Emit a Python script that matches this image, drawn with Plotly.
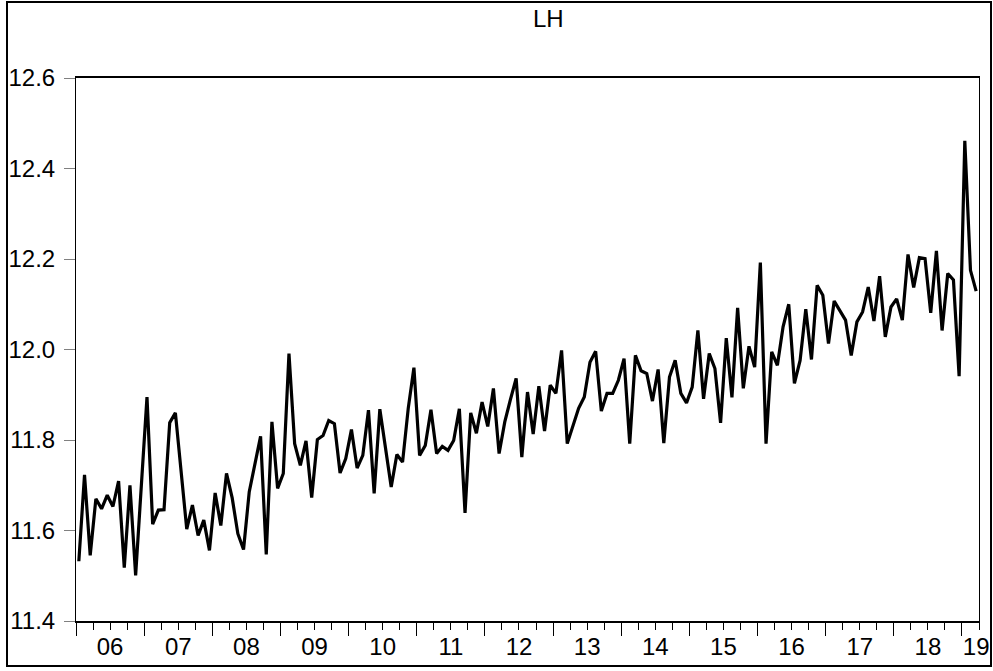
import numpy as np
import plotly.graph_objects as go

# Monthly series LH, 2006M01 - 2019M03
start_year = 2006
lh = [
    11.532, 11.723, 11.545, 11.670, 11.648, 11.678, 11.653, 11.709, 11.518, 11.700, 11.501, 11.700,  # 2006
    11.895, 11.614, 11.645, 11.646, 11.838, 11.860, 11.725, 11.603, 11.656, 11.589, 11.623, 11.556,  # 2007
    11.683, 11.611, 11.726, 11.672, 11.593, 11.558, 11.685, 11.748, 11.808, 11.547, 11.840, 11.693,  # 2008
    11.726, 11.991, 11.792, 11.744, 11.798, 11.673, 11.801, 11.810, 11.843, 11.836, 11.727, 11.759,  # 2009
    11.823, 11.738, 11.766, 11.866, 11.682, 11.868, 11.785, 11.696, 11.768, 11.751, 11.870, 11.960,  # 2010
    11.766, 11.788, 11.867, 11.770, 11.786, 11.777, 11.799, 11.869, 11.639, 11.860, 11.815, 11.884,  # 2011
    11.830, 11.914, 11.770, 11.840, 11.890, 11.936, 11.762, 11.906, 11.813, 11.919, 11.820, 11.921,  # 2012
    11.903, 11.998, 11.792, 11.830, 11.870, 11.895, 11.972, 11.996, 11.864, 11.903, 11.903, 11.932,  # 2013
    11.980, 11.792, 11.987, 11.953, 11.947, 11.886, 11.956, 11.793, 11.939, 11.976, 11.903, 11.882,  # 2014
    11.917, 12.042, 11.891, 11.991, 11.958, 11.838, 12.025, 11.894, 12.092, 11.914, 12.007, 11.961,  # 2015
    12.192, 11.792, 11.995, 11.965, 12.050, 12.100, 11.925, 11.976, 12.089, 11.978, 12.142, 12.120,  # 2016
    12.013, 12.107, 12.087, 12.065, 11.987, 12.061, 12.083, 12.138, 12.063, 12.162, 12.028, 12.094,  # 2017
    12.112, 12.065, 12.210, 12.137, 12.203, 12.201, 12.081, 12.218, 12.042, 12.168, 12.154, 11.941,  # 2018
    12.461, 12.175, 12.129,                                                                          # 2019
]
y_ticks = [11.4, 11.6, 11.8, 12.0, 12.2, 12.4, 12.6]

n = len(lh)
months = [f"{start_year + i // 12}M{i % 12 + 1:02d}" for i in range(n)]
x = np.arange(n) + 0.5  # each observation centred in its monthly slot

n_years = (n + 11) // 12
year_starts = [12 * k for k in range(n_years + 1) if 12 * k <= n]
label_pos = []
label_txt = []
for k in range(n_years):
    a = 12 * k
    b = min(12 * k + 12, n)
    label_pos.append((a + b) / 2 + (1.0 if b - a < 12 else 0))
    label_txt.append(f"{(start_year + k) % 100:02d}")

FONT = "Arial, Liberation Sans, sans-serif"

fig = go.Figure()
fig.add_trace(go.Scatter(
    x=x, y=lh, mode="lines", text=months,
    line=dict(color="black", width=3.2),
    hovertemplate="%{text}: %{y:.3f}<extra></extra>",
    showlegend=False,
))
fig.add_trace(go.Scatter(x=[], y=[], xaxis="x2", showlegend=False))

fig.update_layout(
    width=993, height=671, autosize=False,
    margin=dict(l=76, r=14, t=78, b=50, autoexpand=False),
    paper_bgcolor="white", plot_bgcolor="white",
    font=dict(family=FONT, size=24, color="black"),
    xaxis=dict(
        range=[0, n], showgrid=False, zeroline=False, automargin=False,
        showline=True, linecolor="black", linewidth=1.5, mirror=True,
        tickmode="array", tickvals=year_starts, ticks="outside",
        ticklen=13, tickwidth=1, tickcolor="black", showticklabels=False,
        minor=dict(dtick=3, tick0=0, ticks="outside", ticklen=7,
                   tickwidth=1, tickcolor="black", showgrid=False),
    ),
    xaxis2=dict(
        range=[0, n], overlaying="x", anchor="y", side="bottom",
        showgrid=False, zeroline=False, showline=False, automargin=False,
        tickmode="array", tickvals=label_pos, ticktext=label_txt,
        ticks="", ticklen=0, ticklabelstandoff=9,
        tickfont=dict(family=FONT, size=24, color="black"),
    ),
    yaxis=dict(
        range=[11.4, 12.6], showgrid=False, zeroline=False, automargin=False,
        showline=True, linecolor="black", linewidth=1, mirror=True,
        tickmode="array", tickvals=y_ticks,
        ticktext=[f"{v:.1f}" for v in y_ticks],
        ticks="outside", ticklen=11, tickwidth=1, tickcolor="#808080",
        ticklabelstandoff=4,
        tickfont=dict(family=FONT, size=24, color="black"),
    ),
    shapes=[dict(
        type="rect", xref="paper", yref="paper",
        x0=(7 - 76) / 903, x1=(991 - 76) / 903,
        y0=(621 - 666) / 543, y1=(621 - 2) / 543,
        line=dict(color="black", width=2), fillcolor="rgba(0,0,0,0)",
        layer="below",
    )],
    annotations=[dict(
        text="LH", xref="paper", yref="paper",
        x=(548 - 76) / 903, y=(621 - 18) / 543,
        xanchor="center", yanchor="middle", showarrow=False,
        font=dict(family=FONT, size=24, color="black"),
    )],
)

fig.write_html(
    "out.html",
    config={"displayModeBar": False},
    post_script="document.body.style.margin='0';document.body.style.overflow='hidden';",
)
